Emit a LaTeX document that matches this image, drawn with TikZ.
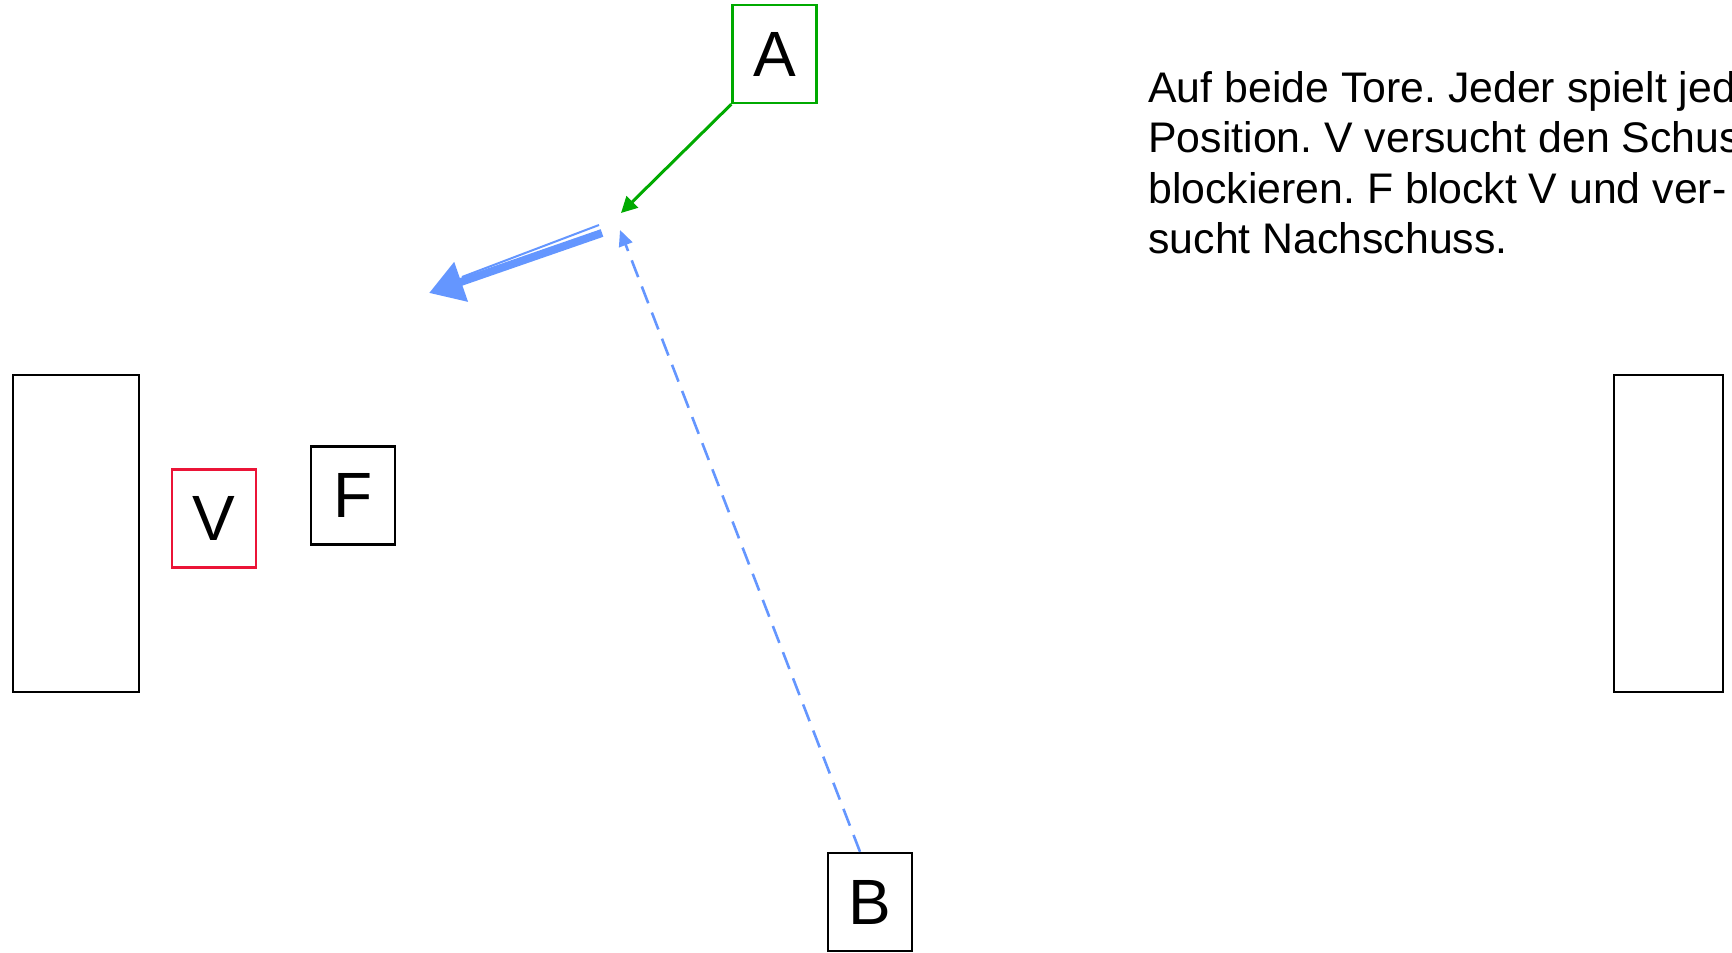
\documentclass[tikz,border=0pt]{standalone}
\usepackage{fontspec}
\setmainfont{Liberation Sans}
\usetikzlibrary{arrows.meta}
\definecolor{passgreen}{RGB}{0,170,0}
\definecolor{runblue}{RGB}{100,150,255}
\definecolor{defred}{RGB}{235,20,55}
\tikzset{
  player/.style={draw, line width=1.2pt, minimum width=42pt, minimum height=49pt,
    inner sep=0pt, font=\fontsize{32}{32}\selectfont},
  goal/.style={draw, line width=1.3pt, inner sep=0pt},
}
\frenchspacing
\begin{document}
\begin{tikzpicture}[x=0.5pt, y=-0.5pt, >=Triangle]
    \useasboundingbox (0,0) rectangle (1732,952);
    \clip (0,0) rectangle (1732,952);

    % Goals
    \node[goal, minimum width=63pt, minimum height=158.5pt] (goalL) at (76,533.5) {};
    \node[goal, minimum width=54.5pt, minimum height=158.5pt] (goalR) at (1668.5,533.5) {};

    % Players
    \node[player, passgreen] (A) at (774.5,54) {\textcolor{black}{A}};
    \node[player] (B) at (870,902) {B};
    \node[player, defred] (V) at (214,518.5) {\textcolor{black}{V}};
    \node[player] (F) at (353,495.5) {F};

    % Pass and run
    \coordinate (passend) at (621,213);
    \coordinate (runend) at (620,230);
    \draw[passgreen, line width=1.5pt, -{Triangle[length=8pt,width=8pt]}] (A.south west) -- (passend);
    \draw[runblue, line width=1.3pt, dash pattern=on 9pt off 5pt,
      -{Triangle[length=8pt,width=7pt]}] ([xshift=-5pt]B.north) -- (runend);

    % Shot
    \coordinate (shotstart) at (602,233);
    \coordinate (shotend) at (429,293);
    \coordinate (thinstart) at (599,225);
    \coordinate (thinend) at (462,277);
    \draw[runblue, line width=4pt, -{Triangle[length=17pt,width=20pt]}] (shotstart) -- (shotend);
    \draw[runblue, line width=1pt] (thinstart) -- (thinend);

    % Description
    \node[anchor=north west, inner sep=0pt, align=left, font=\fontsize{21.4}{25.25}\selectfont]
      (desc) at (1148,71) {Auf beide Tore. Jeder spielt jede\\Position. V versucht den Schuss zu\\blockieren. F blockt V und ver-\\sucht Nachschuss.};
\end{tikzpicture}
\end{document}
